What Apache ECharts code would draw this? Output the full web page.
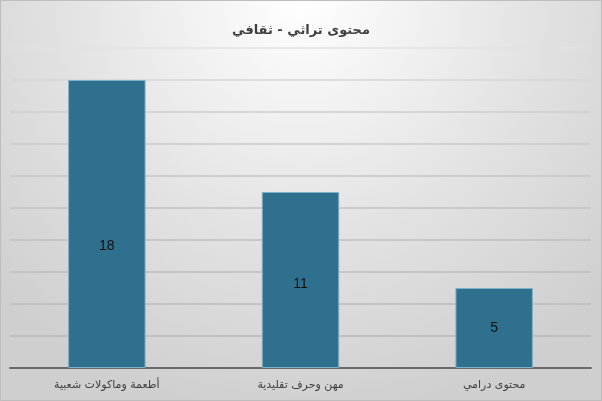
<!DOCTYPE html>
<html><head><meta charset="utf-8">
<script src="https://cdn.jsdelivr.net/npm/echarts@6/dist/echarts.min.js"></script>
<style>html,body{margin:0;padding:0;}#c{width:602px;height:401px;}</style>
</head><body><div id="c"></div>
<script>
const title = 'محتوى تراثي - ثقافي';
const categories = ['أطعمة وماكولات شعبية', 'مهن وحرف تقليدية', 'محتوى درامي'];
const values = [18, 11, 5];
const yMin = 0, yMax = 20, yInterval = 2;
const labelShift = [22, 4, 0];

const chart = echarts.init(document.getElementById('c'), null, {renderer: 'canvas'});
chart.setOption({
  backgroundColor: {
    type: 'radial', x: 0.5, y: 0.0, r: 1.05,
    colorStops: [{offset: 0, color: '#ffffff'}, {offset: 0.55, color: '#e3e3e3'}, {offset: 1, color: '#cfcfcf'}]
  },
  graphic: [{type: 'rect', shape: {x: 0.5, y: 0.5, width: 601, height: 400}, style: {fill: 'none', stroke: '#bdbdbd', lineWidth: 1}, silent: true}],
  title: {
    text: title, left: 'center', top: 19,
    textStyle: {fontFamily: 'DejaVu Sans', fontSize: 13, fontWeight: 'bold', color: '#404040'}
  },
  grid: {left: 10, right: 11, top: 48, bottom: 33, containLabel: false},
  xAxis: {
    type: 'category', data: categories,
    axisLine: {lineStyle: {color: '#6a6a6a', width: 2}},
    axisTick: {show: false},
    axisLabel: {fontFamily: 'DejaVu Sans', fontSize: 11, color: '#404040', margin: 12}
  },
  yAxis: {
    type: 'value', min: yMin, max: yMax, interval: yInterval,
    axisLabel: {show: false}, axisLine: {show: false}, axisTick: {show: false},
    splitLine: {lineStyle: {color: ['#b8b8b8','#b8b8b8','#bbbbbb','#bdbdbd','#bfbfbf','#c2c2c2','#c6c6c6','#cacaca','#cecece','#d6d6d6','#e2e2e2'], width: 1.5}}
  },
  series: [{
    type: 'bar', barWidth: '40%',
    data: values.map((v, i) => ({value: v, label: {offset: [0, labelShift[i]]}})),
    itemStyle: {color: '#2f708e', borderColor: '#7fb0c6', borderWidth: 1},
    label: {show: true, position: 'inside', fontFamily: 'Liberation Sans', fontSize: 14, color: '#111'}
  }]
});
</script></body></html>
